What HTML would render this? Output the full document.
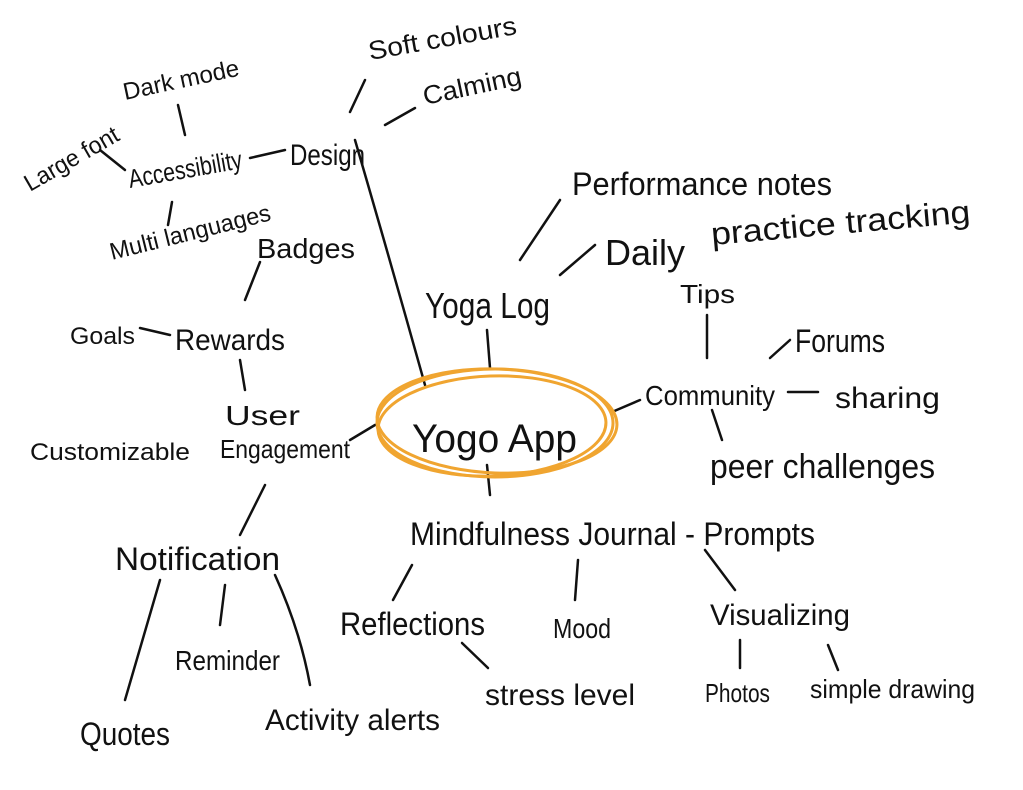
<!DOCTYPE html>
<html><head><meta charset="utf-8"><style>
html,body{margin:0;padding:0;background:#fff;}
svg{display:block}
text{font-family:"Liberation Sans","DejaVu Sans",sans-serif;fill:#111;}
</style></head><body>
<svg width="1023" height="790" viewBox="0 0 1023 790" xmlns="http://www.w3.org/2000/svg">
<g stroke="#111" stroke-width="2.5" stroke-linecap="round" fill="none">
<path d="M355 140 Q390 260 425 385"/>
<path d="M385 125 L415 108"/>
<path d="M350 112 L365 80"/>
<path d="M250 158 L285 150"/>
<path d="M178 105 L185 135"/>
<path d="M100 150 L125 170"/>
<path d="M172 202 L168 225"/>
<path d="M260 262 L245 300"/>
<path d="M140 328 L170 335"/>
<path d="M240 360 L245 390"/>
<path d="M350 440 L375 425"/>
<path d="M265 485 L240 535"/>
<path d="M160 580 L125 700"/>
<path d="M225 585 L220 625"/>
<path d="M275 575 Q300 630 310 685"/>
<path d="M487 330 L490 368"/>
<path d="M520 260 L560 200"/>
<path d="M560 275 L595 245"/>
<path d="M707 315 L707 358"/>
<path d="M612 412 L640 400"/>
<path d="M770 358 L790 340"/>
<path d="M788 392 L818 392"/>
<path d="M712 410 L722 440"/>
<path d="M487 465 L490 495"/>
<path d="M412 565 L393 600"/>
<path d="M578 560 L575 600"/>
<path d="M705 550 L735 590"/>
<path d="M462 643 L488 668"/>
<path d="M740 640 L740 668"/>
<path d="M828 645 L838 670"/>
</g>
<g stroke="#f0a530" stroke-width="3" fill="none">
<ellipse cx="495" cy="423" rx="118" ry="54"/>
<ellipse cx="492" cy="426" rx="114" ry="50" transform="rotate(-2 492 426)"/>
<ellipse cx="497" cy="421" rx="120" ry="52" transform="rotate(2 497 421)"/>
</g>
<text x="412" y="452" font-size="40" textLength="165" lengthAdjust="spacingAndGlyphs">Yogo App</text>
<text x="290" y="165" font-size="30" textLength="75" lengthAdjust="spacingAndGlyphs">Design</text>
<text x="370" y="60" font-size="26" textLength="150" lengthAdjust="spacingAndGlyphs" transform="rotate(-10 370 60)">Soft colours</text>
<text x="425" y="105" font-size="26" textLength="100" lengthAdjust="spacingAndGlyphs" transform="rotate(-12 425 105)">Calming</text>
<text x="130" y="188" font-size="26" textLength="115" lengthAdjust="spacingAndGlyphs" transform="rotate(-10 130 188)">Accessibility</text>
<text x="30" y="192" font-size="24" textLength="105" lengthAdjust="spacingAndGlyphs" transform="rotate(-30 30 192)">Large font</text>
<text x="125" y="100" font-size="24" textLength="118" lengthAdjust="spacingAndGlyphs" transform="rotate(-12 125 100)">Dark mode</text>
<text x="112" y="260" font-size="24" textLength="165" lengthAdjust="spacingAndGlyphs" transform="rotate(-14 112 260)">Multi languages</text>
<text x="257" y="258" font-size="28" textLength="98" lengthAdjust="spacingAndGlyphs">Badges</text>
<text x="70" y="344" font-size="24" textLength="65" lengthAdjust="spacingAndGlyphs">Goals</text>
<text x="175" y="350" font-size="30" textLength="110" lengthAdjust="spacingAndGlyphs">Rewards</text>
<text x="225" y="425" font-size="28" textLength="75" lengthAdjust="spacingAndGlyphs">User</text>
<text x="220" y="458" font-size="26" textLength="130" lengthAdjust="spacingAndGlyphs">Engagement</text>
<text x="30" y="460" font-size="24" textLength="160" lengthAdjust="spacingAndGlyphs">Customizable</text>
<text x="115" y="570" font-size="32" textLength="165" lengthAdjust="spacingAndGlyphs">Notification</text>
<text x="175" y="670" font-size="28" textLength="105" lengthAdjust="spacingAndGlyphs">Reminder</text>
<text x="80" y="745" font-size="32" textLength="90" lengthAdjust="spacingAndGlyphs">Quotes</text>
<text x="265" y="730" font-size="30" textLength="175" lengthAdjust="spacingAndGlyphs">Activity alerts</text>
<text x="425" y="318" font-size="36" textLength="125" lengthAdjust="spacingAndGlyphs">Yoga Log</text>
<text x="572" y="195" font-size="32" textLength="260" lengthAdjust="spacingAndGlyphs">Performance notes</text>
<text x="605" y="265" font-size="36" textLength="80" lengthAdjust="spacingAndGlyphs">Daily</text>
<text x="712" y="245" font-size="32" textLength="260" lengthAdjust="spacingAndGlyphs" transform="rotate(-5 712 245)">practice tracking</text>
<text x="680" y="303" font-size="26" textLength="55" lengthAdjust="spacingAndGlyphs">Tips</text>
<text x="645" y="405" font-size="28" textLength="130" lengthAdjust="spacingAndGlyphs">Community</text>
<text x="795" y="352" font-size="32" textLength="90" lengthAdjust="spacingAndGlyphs">Forums</text>
<text x="835" y="408" font-size="30" textLength="105" lengthAdjust="spacingAndGlyphs">sharing</text>
<text x="710" y="478" font-size="34" textLength="225" lengthAdjust="spacingAndGlyphs">peer challenges</text>
<text x="410" y="545" font-size="32" textLength="405" lengthAdjust="spacingAndGlyphs">Mindfulness Journal - Prompts</text>
<text x="340" y="635" font-size="32" textLength="145" lengthAdjust="spacingAndGlyphs">Reflections</text>
<text x="553" y="638" font-size="28" textLength="58" lengthAdjust="spacingAndGlyphs">Mood</text>
<text x="710" y="625" font-size="30" textLength="140" lengthAdjust="spacingAndGlyphs">Visualizing</text>
<text x="485" y="705" font-size="30" textLength="150" lengthAdjust="spacingAndGlyphs">stress level</text>
<text x="705" y="702" font-size="26" textLength="65" lengthAdjust="spacingAndGlyphs">Photos</text>
<text x="810" y="698" font-size="26" textLength="165" lengthAdjust="spacingAndGlyphs">simple drawing</text>
</svg>
</body></html>
